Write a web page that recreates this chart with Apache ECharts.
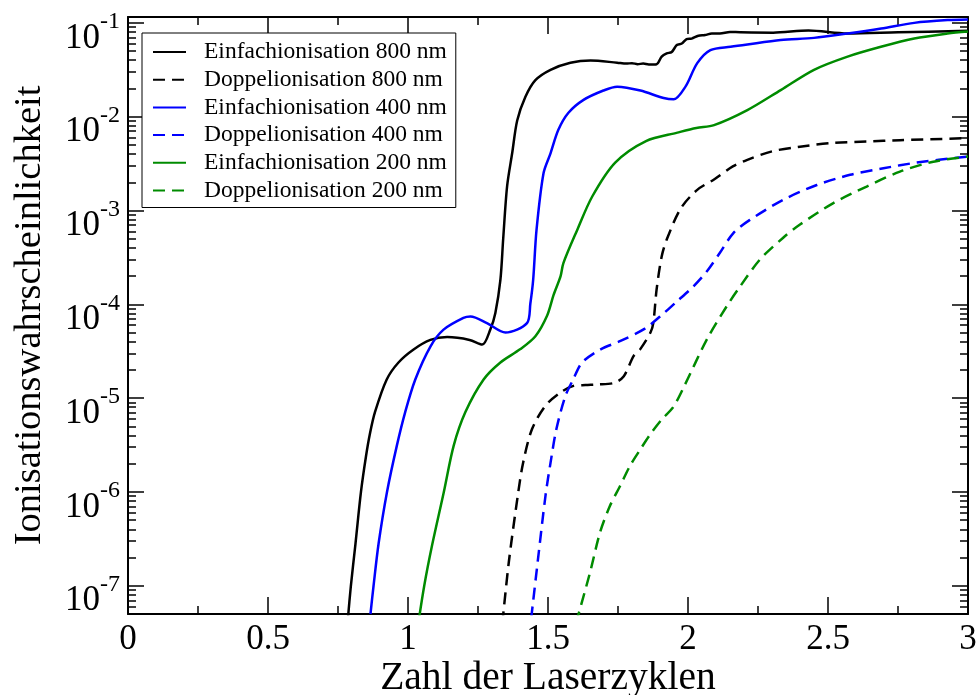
<!DOCTYPE html>
<html>
<head>
<meta charset="utf-8">
<script src="https://cdn.jsdelivr.net/npm/echarts@6/dist/echarts.min.js"></script>
<style>
  html, body { margin: 0; padding: 0; background: #fff; }
  #chart { width: 978px; height: 695px; }
</style>
</head>
<body>
<div id="chart"></div>
<script>
// Ionisation probability vs. number of laser cycles: [cycles, probability]
const einfach800 = [
  [0.784, 4.0e-8], [0.796, 1.0e-7], [0.8125, 2.82e-7], [0.832, 1.0e-6], [0.85, 2.4e-6],
  [0.864, 4.17e-6], [0.882, 7.08e-6], [0.924, 1.58e-5], [0.966, 2.4e-5], [1.02, 3.3e-5],
  [1.08, 4.17e-5], [1.14, 4.47e-5], [1.22, 4.17e-5], [1.265, 3.72e-5], [1.294, 5.4e-5],
  [1.312, 8.1e-5], [1.33, 1.82e-4], [1.34, 5.0e-4], [1.354, 1.82e-3], [1.372, 4.07e-3],
  [1.39, 9.1e-3], [1.419, 1.62e-2], [1.455, 2.45e-2], [1.509, 3.16e-2], [1.58, 3.76e-2],
  [1.652, 3.98e-2], [1.747, 3.76e-2], [1.78, 3.68e-2], [1.80, 3.72e-2], [1.82, 3.63e-2],
  [1.84, 3.68e-2], [1.86, 3.6e-2], [1.888, 3.63e-2], [1.906, 4.37e-2], [1.924, 4.72e-2],
  [1.942, 4.9e-2], [1.96, 5.8e-2], [1.978, 6.03e-2], [1.995, 6.7e-2], [2.013, 6.8e-2],
  [2.037, 7.28e-2], [2.061, 7.41e-2], [2.085, 7.7e-2], [2.114, 7.7e-2], [2.15, 8.0e-2],
  [2.186, 7.94e-2], [2.304, 7.87e-2], [2.43, 8.3e-2], [2.57, 7.71e-2], [2.75, 7.94e-2],
  [3.0, 8.22e-2]
];
const doppel800 = [
  [1.337, 4.0e-8], [1.36, 1.78e-7], [1.392, 9.1e-7], [1.411, 2.04e-6], [1.443, 4.68e-6],
  [1.491, 8.3e-6], [1.545, 1.15e-5], [1.591, 1.35e-5], [1.634, 1.38e-5], [1.676, 1.4e-5],
  [1.735, 1.45e-5], [1.77, 1.7e-5], [1.806, 2.82e-5], [1.829, 3.31e-5], [1.866, 5.0e-5],
  [1.876, 6.3e-5], [1.888, 1.45e-4], [1.906, 3.24e-4], [1.924, 4.9e-4], [1.974, 1.05e-3],
  [2.033, 1.66e-3], [2.093, 2.14e-3], [2.16, 2.95e-3], [2.212, 3.47e-3], [2.30, 4.27e-3],
  [2.4, 4.79e-3], [2.519, 5.25e-3], [2.638, 5.43e-3], [2.757, 5.62e-3], [3.0, 5.9e-3]
];
const einfach400 = [
  [0.866, 5.0e-8], [0.877, 1.0e-7], [0.895, 2.82e-7], [0.925, 1.0e-6], [0.96, 3.1e-6],
  [0.99, 7.1e-6], [1.026, 1.58e-5], [1.08, 3.55e-5], [1.127, 5.37e-5], [1.198, 7.16e-5],
  [1.223, 7.41e-5], [1.282, 6.31e-5], [1.348, 5.01e-5], [1.425, 6.31e-5], [1.437, 1.02e-4],
  [1.447, 1.82e-4], [1.459, 6.2e-4], [1.484, 2.5e-3], [1.509, 4.07e-3], [1.537, 7.24e-3],
  [1.573, 1.1e-2], [1.627, 1.51e-2], [1.698, 1.9e-2], [1.747, 2.09e-2], [1.83, 1.9e-2],
  [1.913, 1.58e-2], [1.949, 1.53e-2], [1.991, 2.09e-2], [2.033, 3.72e-2], [2.08, 5.13e-2],
  [2.152, 5.56e-2], [2.212, 5.89e-2], [2.331, 6.55e-2], [2.45, 6.92e-2], [2.57, 7.71e-2],
  [2.69, 8.71e-2], [2.808, 1.0e-1], [2.927, 1.07e-1], [3.0, 1.087e-1]
];
const doppel400 = [
  [1.44, 4.5e-8], [1.463, 1.78e-7], [1.491, 9.1e-7], [1.509, 2.04e-6], [1.53, 4.68e-6],
  [1.562, 1.05e-5], [1.59, 1.58e-5], [1.622, 2.4e-5], [1.688, 3.31e-5], [1.759, 4.07e-5],
  [1.846, 5.5e-5], [1.90, 7.41e-5], [1.96, 1.07e-4], [2.019, 1.55e-4], [2.067, 2.24e-4],
  [2.114, 3.55e-4], [2.162, 5.75e-4], [2.221, 7.94e-4], [2.34, 1.3e-3], [2.46, 1.87e-3],
  [2.579, 2.4e-3], [2.698, 2.82e-3], [2.817, 3.24e-3], [3.0, 3.76e-3]
];
const einfach200 = [
  [1.034, 3.5e-8], [1.058, 1.0e-7], [1.086, 2.7e-7], [1.128, 1.0e-6], [1.163, 3.1e-6],
  [1.205, 7.1e-6], [1.27, 1.58e-5], [1.33, 2.4e-5], [1.40, 3.31e-5], [1.455, 4.57e-5],
  [1.497, 7.6e-5], [1.52, 1.26e-4], [1.545, 2.0e-4], [1.555, 2.75e-4], [1.604, 6.17e-4],
  [1.658, 1.41e-3], [1.74, 3.24e-3], [1.85, 5.5e-3], [1.962, 6.76e-3], [2.03, 7.59e-3],
  [2.093, 8.13e-3], [2.212, 1.175e-2], [2.331, 1.92e-2], [2.45, 3.16e-2], [2.57, 4.37e-2],
  [2.689, 5.56e-2], [2.808, 6.82e-2], [2.927, 7.71e-2], [3.0, 8.1e-2]
];
const doppel200 = [
  [1.60, 4.0e-8], [1.65, 1.38e-7], [1.686, 3.72e-7], [1.721, 7.08e-7], [1.757, 1.15e-6],
  [1.793, 1.9e-6], [1.829, 2.82e-6], [1.864, 4.07e-6], [1.906, 5.9e-6], [1.948, 8.1e-6],
  [1.99, 1.41e-5], [2.067, 4.2e-5], [2.138, 9.5e-5], [2.186, 1.55e-4], [2.257, 3.0e-4],
  [2.34, 5.13e-4], [2.4, 7.08e-4], [2.519, 1.2e-3], [2.638, 1.8e-3], [2.757, 2.6e-3],
  [2.876, 3.31e-3], [3.0, 3.76e-3]
];

const seriesNames = [
  'Einfachionisation 800 nm', 'Doppelionisation 800 nm',
  'Einfachionisation 400 nm', 'Doppelionisation 400 nm',
  'Einfachionisation 200 nm', 'Doppelionisation 200 nm'
];
const seriesData = [einfach800, doppel800, einfach400, doppel400, einfach200, doppel200];
const seriesColors = ['#000000', '#000000', '#0000ff', '#0000ff', '#008b00', '#008b00'];
const seriesDashed = [false, true, false, true, false, true];

// y axis: decades that carry a labelled major tick
const decadeExponents = [-7, -6, -5, -4, -3, -2, -1];
const yMin = 5e-8;
const yMax = 0.1155;

const FONT = 'Liberation Serif';

const majorTicks = decadeExponents.map(e => Math.pow(10, e));
const minorTicks = [];
for (let e = -8; e <= -2; e++) {
  for (let k = 2; k <= 9; k++) {
    const v = k * Math.pow(10, e);
    if (v > yMin && v < yMax) minorTicks.push(v);
  }
}

function yAxisDef(position, values, len, withLabels, withLine) {
  return {
    type: 'log',
    logBase: 10,
    min: yMin,
    max: yMax,
    position: position,
    axisLine: { show: withLine, lineStyle: { color: '#000', width: 2 } },
    axisTick: {
      show: true, inside: true, length: len, customValues: values,
      lineStyle: { color: '#000', width: 1.5 }
    },
    minorTick: { show: false },
    splitLine: { show: false },
    axisLabel: withLabels ? {
      show: true,
      customValues: values,
      margin: 8,
      padding: [20, 0, 0, 0],
      formatter: v => '{b|10}{s|' + Math.round(Math.log10(v)) + '}',
      rich: {
        b: { fontFamily: FONT, fontSize: 35, lineHeight: 46, color: '#000', verticalAlign: 'bottom' },
        s: { fontFamily: FONT, fontSize: 24, lineHeight: 24, color: '#000', verticalAlign: 'top' }
      }
    } : { show: false },
    name: withLabels ? 'Ionisationswahrscheinlichkeit' : '',
    nameLocation: 'middle',
    nameGap: 79,
    nameMoveOverlap: false,
    nameTextStyle: { fontFamily: FONT, fontSize: 38.5, color: '#000' }
  };
}

function xAxisDef(position, withLabels) {
  return {
    type: 'value',
    min: 0,
    max: 3,
    interval: 0.5,
    position: position,
    axisLine: { show: true, onZero: false, lineStyle: { color: '#000', width: 2 } },
    axisTick: { show: true, inside: true, length: 17, lineStyle: { color: '#000', width: 1.5 } },
    minorTick: { show: true, splitNumber: 2, length: 8, lineStyle: { color: '#000', width: 1.5 } },
    splitLine: { show: false },
    minorSplitLine: { show: false },
    axisLabel: withLabels ? {
      show: true, margin: 8, fontFamily: FONT, fontSize: 35, color: '#000'
    } : { show: false },
    name: withLabels ? 'Zahl der Laserzyklen' : '',
    nameLocation: 'middle',
    nameGap: 45,
    nameMoveOverlap: false,
    nameTextStyle: { fontFamily: FONT, fontSize: 39.5, color: '#000' }
  };
}

const chart = echarts.init(document.getElementById('chart'), null, { renderer: 'canvas' });

chart.setOption({
  animation: false,
  backgroundColor: '#ffffff',
  grid: { left: 128, right: 10, top: 17, bottom: 81, containLabel: false, outerBoundsMode: 'none' },
  xAxis: [xAxisDef('bottom', true), xAxisDef('top', false)],
  yAxis: [
    yAxisDef('left', majorTicks, 16, true, true),
    yAxisDef('left', minorTicks, 8, false, false),
    yAxisDef('right', majorTicks, 16, false, true),
    yAxisDef('right', minorTicks, 8, false, false)
  ],
  legend: {
    orient: 'vertical',
    left: 142,
    top: 33,
    padding: [7, 9, 5, 10],
    itemGap: 3.7,
    itemWidth: 33,
    itemHeight: 14,
    borderColor: '#000',
    borderWidth: 1,
    borderRadius: 0,
    backgroundColor: '#fff',
    data: seriesNames,
    itemStyle: { color: 'transparent', borderColor: 'transparent', borderWidth: 0, opacity: 0 },
    textStyle: { fontFamily: FONT, fontSize: 23.5, lineHeight: 24, color: '#000', padding: [0, 0, 0, 13] }
  },
  series: seriesNames.map((name, i) => ({
    name: name,
    type: 'line',
    xAxisIndex: 0,
    yAxisIndex: 0,
    data: seriesData[i],
    symbol: 'none',
    smooth: 0.3,
    clip: true,
    color: seriesColors[i],
    lineStyle: {
      color: seriesColors[i],
      width: 2.5,
      type: seriesDashed[i] ? [12, 7] : 'solid'
    }
  }))
});
</script>
</body>
</html>
